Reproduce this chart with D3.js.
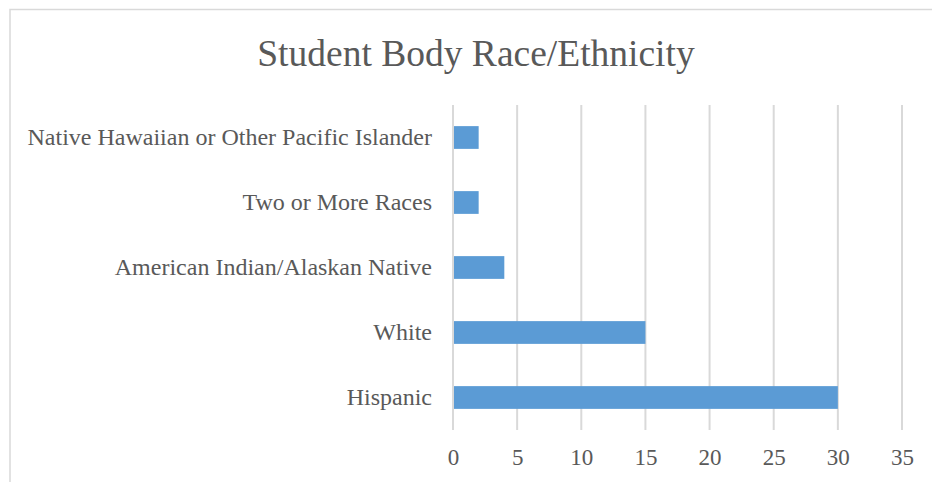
<!DOCTYPE html>
<html><head><meta charset="utf-8">
<script src="https://cdn.jsdelivr.net/npm/d3@7"></script>
<style>body{margin:0;background:#fff;} text{font-family:"Liberation Serif","Times New Roman",serif;}</style>
</head><body>
<svg id="c" width="932" height="482"></svg>
<script>
const categories = ["Hispanic","White","American Indian/Alaskan Native","Two or More Races","Native Hawaiian or Other Pacific Islander"];
const values = [30,15,4,2,2];
const tickValues = [0,5,10,15,20,25,30,35];
const title = "Student Body Race/Ethnicity";

const svg = d3.select("#c");
const W = 932, H = 482;
svg.append("rect").attr("x",10).attr("y",9.5).attr("width",W).attr("height",H).attr("fill","#fff").attr("stroke","#D9D9D9").attr("stroke-width",1.5);

const x = d3.scaleLinear().domain([0,35]).range([453,902]);
const y = d3.scaleBand().domain(categories.slice().reverse()).range([105,430]).paddingInner(0.65).paddingOuter(0.325);

svg.append("text").attr("x",476).attr("y",66).attr("text-anchor","middle").attr("fill","#595959").style("font-size","37.5px").text(title);

const grid = svg.append("g");
grid.selectAll("line").data(tickValues).join("line")
  .attr("x1",d=>x(d)).attr("x2",d=>x(d)).attr("y1",105).attr("y2",430)
  .attr("stroke","#D9D9D9").attr("stroke-width",2);

const xa = svg.append("g").attr("transform","translate(0,430)").call(d3.axisBottom(x).tickValues(tickValues).tickSize(0).tickPadding(19));
xa.select(".domain").remove();
xa.selectAll("text").attr("fill","#595959").style("font-size","23px");

const ya = svg.append("g").attr("transform","translate(453,0)").call(d3.axisLeft(y).tickSize(0).tickPadding(21));
ya.select(".domain").remove();
ya.selectAll("text").attr("fill","#595959").style("font-size","24px");

svg.append("g").selectAll("rect").data(categories).join("rect")
  .attr("x",x(0)+1).attr("y",d=>y(d)).attr("height",y.bandwidth())
  .attr("width",(d,i)=>x(values[i])-x(0)-1).attr("fill","#5B9BD5");
</script>
</body></html>
